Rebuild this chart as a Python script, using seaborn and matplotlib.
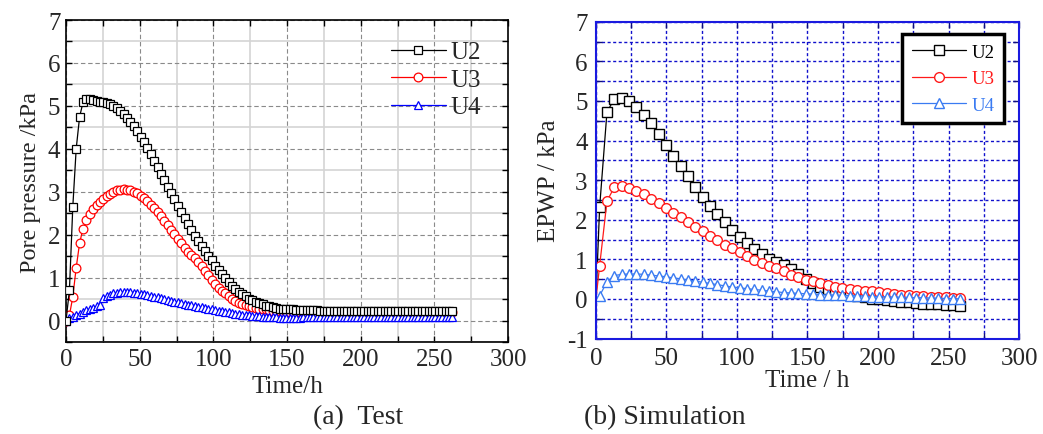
import numpy as np
import pandas as pd
import matplotlib
matplotlib.use("Agg")
import matplotlib.pyplot as plt
from matplotlib.ticker import MultipleLocator
import seaborn as sns

# ---------------- measured pore pressure (test) ----------------
time_test = [
    0.0, 2.3, 4.6, 6.9, 9.2, 11.5, 13.8, 16.1, 18.4, 20.7,
    23.0, 25.3, 27.6, 29.9, 32.2, 34.5, 36.8, 39.1, 41.4, 43.7,
    46.0, 48.3, 50.6, 52.9, 55.2, 57.5, 59.8, 62.1, 64.4, 66.7,
    69.0, 71.3, 73.6, 75.9, 78.2, 80.5, 82.8, 85.1, 87.4, 89.7,
    92.0, 94.3, 96.6, 98.9, 101.2, 103.5, 105.8, 108.1, 110.4, 112.7,
    115.0, 117.3, 119.6, 121.9, 124.2, 126.5, 128.8, 131.1, 133.4, 135.7,
    138.0, 140.3, 142.6, 144.9, 147.2, 149.5, 151.8, 154.1, 156.4, 158.7,
    161.0, 163.3, 165.6, 167.9, 170.2, 172.5, 174.8, 177.1, 179.4, 181.7,
    184.0, 186.3, 188.6, 190.9, 193.2, 195.5, 197.8, 200.1, 202.4, 204.7,
    207.0, 209.3, 211.6, 213.9, 216.2, 218.5, 220.8, 223.1, 225.4, 227.7,
    230.0, 232.3, 234.6, 236.9, 239.2, 241.5, 243.8, 246.1, 248.4, 250.7,
    253.0, 255.3, 257.6, 259.9, 262.2,
]
u2_test = [
    0.00, 0.70, 2.65, 4.00, 4.74, 5.08, 5.16, 5.16, 5.13, 5.11,
    5.10, 5.09, 5.07, 5.04, 5.00, 4.95, 4.88, 4.80, 4.71, 4.62,
    4.52, 4.41, 4.28, 4.15, 4.01, 3.87, 3.72, 3.57, 3.42, 3.27,
    3.12, 2.97, 2.82, 2.67, 2.52, 2.38, 2.24, 2.10, 1.98, 1.86,
    1.74, 1.61, 1.50, 1.40, 1.27, 1.17, 1.08, 0.99, 0.90, 0.81,
    0.73, 0.66, 0.61, 0.56, 0.51, 0.47, 0.44, 0.41, 0.38, 0.35,
    0.33, 0.31, 0.29, 0.28, 0.27, 0.26, 0.26, 0.26, 0.25, 0.25,
    0.24, 0.24, 0.24, 0.24, 0.24, 0.23, 0.23, 0.23, 0.23, 0.23,
    0.23, 0.23, 0.23, 0.23, 0.23, 0.23, 0.23, 0.23, 0.23, 0.23,
    0.23, 0.23, 0.23, 0.23, 0.23, 0.23, 0.23, 0.23, 0.23, 0.23,
    0.23, 0.22, 0.22, 0.23, 0.23, 0.22, 0.22, 0.23, 0.22, 0.22,
    0.22, 0.22, 0.22, 0.22, 0.22,
]
u3_test = [
    0.00, 0.12, 0.55, 1.23, 1.80, 2.14, 2.34, 2.48, 2.59, 2.68,
    2.76, 2.84, 2.90, 2.95, 3.00, 3.03, 3.05, 3.06, 3.05, 3.03,
    3.00, 2.96, 2.91, 2.85, 2.78, 2.70, 2.62, 2.53, 2.43, 2.33,
    2.23, 2.12, 2.01, 1.91, 1.80, 1.70, 1.60, 1.52, 1.45, 1.36,
    1.26, 1.15, 1.05, 0.95, 0.86, 0.76, 0.69, 0.63, 0.56, 0.51,
    0.46, 0.42, 0.38, 0.36, 0.34, 0.31, 0.30, 0.28, 0.27, 0.26,
    0.24, 0.23, 0.23, 0.22, 0.21, 0.20, 0.20, 0.20, 0.20, 0.20,
    0.20, 0.20, 0.20, 0.20, 0.20, 0.20, 0.20, 0.20, 0.20, 0.20,
    0.20, 0.20, 0.20, 0.20, 0.20, 0.20, 0.20, 0.20, 0.20, 0.20,
    0.20, 0.20, 0.19, 0.19, 0.19, 0.19, 0.19, 0.19, 0.19, 0.19,
    0.19, 0.19, 0.19, 0.19, 0.19, 0.19, 0.19, 0.19, 0.19, 0.19,
    0.19, 0.19, 0.19, 0.19, 0.19,
]
u4_test = [
    0.00, 0.05, 0.09, 0.13, 0.16, 0.19, 0.24, 0.27, 0.30, 0.33,
    0.36, 0.52, 0.56, 0.60, 0.63, 0.65, 0.66, 0.67, 0.67, 0.66,
    0.65, 0.64, 0.62, 0.61, 0.59, 0.57, 0.55, 0.54, 0.52, 0.50,
    0.48, 0.46, 0.44, 0.43, 0.41, 0.39, 0.37, 0.36, 0.34, 0.32,
    0.31, 0.29, 0.28, 0.26, 0.25, 0.23, 0.22, 0.20, 0.19, 0.17,
    0.16, 0.15, 0.14, 0.13, 0.12, 0.11, 0.10, 0.10, 0.09, 0.09,
    0.08, 0.08, 0.08, 0.07, 0.07, 0.07, 0.07, 0.06, 0.06, 0.06,
    0.09, 0.09, 0.09, 0.09, 0.09, 0.09, 0.09, 0.09, 0.09, 0.09,
    0.09, 0.09, 0.09, 0.09, 0.09, 0.09, 0.09, 0.09, 0.09, 0.09,
    0.09, 0.09, 0.09, 0.09, 0.09, 0.09, 0.09, 0.09, 0.09, 0.09,
    0.09, 0.09, 0.09, 0.09, 0.09, 0.09, 0.09, 0.09, 0.09, 0.09,
    0.09, 0.09, 0.09, 0.09, 0.09,
]

# ---------------- computed excess pore water pressure (simulation) ----------------
time_sim = [
    0.0, 2.6, 7.8, 13.0, 18.3, 23.5, 28.7, 33.9, 39.1, 44.4,
    49.6, 54.8, 60.0, 65.2, 70.5, 75.7, 80.9, 86.1, 91.3, 96.5,
    101.8, 107.0, 112.2, 117.4, 122.6, 127.9, 133.1, 138.3, 143.5, 148.7,
    154.0, 159.2, 164.4, 169.6, 174.8, 180.1, 185.3, 190.5, 195.7, 200.9,
    206.2, 211.4, 216.6, 221.8, 227.0, 232.2, 237.5, 242.7, 247.9, 253.1,
    258.3,
]
u2_sim = [
    0.00, 2.32, 4.72, 5.05, 5.07, 5.01, 4.84, 4.64, 4.44, 4.16,
    3.89, 3.62, 3.35, 3.10, 2.82, 2.58, 2.35, 2.15, 1.95, 1.74,
    1.56, 1.40, 1.27, 1.13, 1.02, 0.93, 0.85, 0.75, 0.63, 0.50,
    0.40, 0.30, 0.24, 0.19, 0.15, 0.10, 0.07, 0.04, 0.01, -0.01,
    -0.03, -0.05, -0.07, -0.09, -0.11, -0.12, -0.13, -0.14, -0.15, -0.16,
    -0.17,
]
u3_sim = [
    0.00, 0.84, 2.47, 2.82, 2.86, 2.81, 2.73, 2.64, 2.53, 2.42,
    2.29, 2.18, 2.06, 1.95, 1.82, 1.71, 1.60, 1.49, 1.37, 1.28,
    1.18, 1.08, 0.99, 0.91, 0.84, 0.78, 0.71, 0.61, 0.55, 0.49,
    0.44, 0.39, 0.35, 0.31, 0.28, 0.25, 0.23, 0.21, 0.19, 0.17,
    0.15, 0.13, 0.11, 0.10, 0.08, 0.07, 0.06, 0.05, 0.04, 0.03,
    0.03,
]
u4_sim = [
    0.00, 0.08, 0.43, 0.59, 0.62, 0.63, 0.63, 0.62, 0.60, 0.58,
    0.56, 0.53, 0.51, 0.48, 0.45, 0.42, 0.39, 0.36, 0.33, 0.30,
    0.28, 0.26, 0.24, 0.22, 0.20, 0.18, 0.16, 0.15, 0.14, 0.13,
    0.12, 0.11, 0.10, 0.10, 0.09, 0.08, 0.08, 0.07, 0.06, 0.06,
    0.05, 0.05, 0.04, 0.04, 0.03, 0.03, 0.02, 0.02, 0.01, 0.01,
    0.00,
]

series_names = ["U2", "U3", "U4"]

sns.set_theme(style="white")
plt.rcParams["font.family"] = ["Liberation Serif", "DejaVu Serif"]
plt.rcParams["axes.unicode_minus"] = False

fig = plt.figure(figsize=(10.43, 4.35), dpi=100)

# ======================= (a) Test =======================
ax1 = fig.add_axes([0.0633, 0.2115, 0.4238, 0.7402])
test_df = pd.DataFrame({"t": time_test, "U2": u2_test, "U3": u3_test, "U4": u4_test})
test_style = {
    "U2": dict(color="black", marker="s", ms=6.0, zorder=5),
    "U3": dict(color="#FF0000", marker="o", ms=6.3, zorder=3),
    "U4": dict(color="#0000FF", marker="^", ms=6.3, zorder=4),
}
for name in series_names:
    st = test_style[name]
    sns.lineplot(data=test_df, x="t", y=name, ax=ax1, sort=False, estimator=None,
                 color=st["color"], marker=st["marker"], markersize=st["ms"],
                 markerfacecolor="white", markeredgecolor=st["color"],
                 markeredgewidth=0.9, linewidth=0.9, label=name, zorder=st["zorder"])

ax1.set_xlim(0, 300)
ax1.set_ylim(-0.5, 7)
ax1.xaxis.set_major_locator(MultipleLocator(50))
ax1.xaxis.set_minor_locator(MultipleLocator(25))
ax1.yaxis.set_major_locator(MultipleLocator(1))
ax1.yaxis.set_minor_locator(MultipleLocator(0.5))
ax1.grid(which="major", linestyle=(0, (4, 2.5)), color="#8a8a8a", linewidth=0.8)
ax1.grid(which="minor", linestyle="-", color="#d4d4d4", linewidth=1.2)
ax1.set_axisbelow(True)
for sp in ax1.spines.values():
    sp.set_color("black")
    sp.set_linewidth(1.2)
ax1.tick_params(which="both", direction="in", top=True, right=True,
                bottom=True, left=True, length=4, width=1.0, color="black",
                labelsize=18, pad=4)
ax1.set_xlabel("Time/h", fontsize=18, labelpad=4)
ax1.set_ylabel("Pore pressure /kPa", fontsize=17.5, labelpad=5)
leg1 = ax1.legend(loc="upper left", bbox_to_anchor=(0.735, 0.935), frameon=False,
                  fontsize=18, handlelength=2.2, handletextpad=0.2,
                  labelspacing=0.2, borderpad=0, borderaxespad=0)

# ======================= (b) Simulation =======================
ax2 = fig.add_axes([0.5714, 0.2195, 0.4056, 0.7283])
sim_df = pd.DataFrame({"t": time_sim, "U2": u2_sim, "U3": u3_sim, "U4": u4_sim})
sim_style = {
    "U2": dict(color="black", marker="s", ms=7.6),
    "U3": dict(color="#FF1A1A", marker="o", ms=7.0),
    "U4": dict(color="#3A7BF2", marker="^", ms=6.6),
}
for name in series_names:
    st = sim_style[name]
    sns.lineplot(data=sim_df, x="t", y=name, ax=ax2, sort=False, estimator=None,
                 color=st["color"], marker=st["marker"], markersize=st["ms"],
                 markerfacecolor="white", markeredgecolor=st["color"],
                 markeredgewidth=1.0, linewidth=0.9, label=name,
                 markevery=list(range(1, len(time_sim))))

ax2.set_xlim(0, 300)
ax2.set_ylim(-1, 7)
ax2.xaxis.set_major_locator(MultipleLocator(50))
ax2.xaxis.set_minor_locator(MultipleLocator(25))
ax2.yaxis.set_major_locator(MultipleLocator(1))
ax2.yaxis.set_minor_locator(MultipleLocator(0.5))
ax2.grid(which="both", linestyle=(0, (2.2, 1.8)), color="#1010CC", linewidth=1.0)
ax2.set_axisbelow(True)
for sp in ax2.spines.values():
    sp.set_color("#1a1adf")
    sp.set_linewidth(1.5)
ax2.tick_params(which="both", direction="in", top=True, right=True,
                bottom=True, left=True, length=4, width=1.0, color="#10107a",
                labelsize=18, pad=6)
ax2.set_xlabel("Time / h", fontsize=18, labelpad=0)
ax2.set_ylabel("EPWP / kPa", fontsize=18, labelpad=5)
leg2 = ax2.legend(loc="upper right", bbox_to_anchor=(0.965, 0.961), frameon=True,
                  fancybox=False, fontsize=13.5, handlelength=2.9, handletextpad=0.3,
                  labelspacing=0.5, borderpad=0.5, borderaxespad=0)
leg2.get_frame().set_edgecolor("black")
leg2.get_frame().set_linewidth(2.5)
leg2.get_frame().set_facecolor("white")
leg2.get_frame().set_alpha(1)
for txt, name in zip(leg2.get_texts(), series_names):
    txt.set_color(sim_style[name]["color"])

# ---------------- panel captions ----------------
fig.text(0.343, 0.041, "(a)  Test", ha="center", va="center", fontsize=20)
fig.text(0.637, 0.041, "(b) Simulation", ha="center", va="center", fontsize=20)

fig.savefig("out.png", dpi=100)
